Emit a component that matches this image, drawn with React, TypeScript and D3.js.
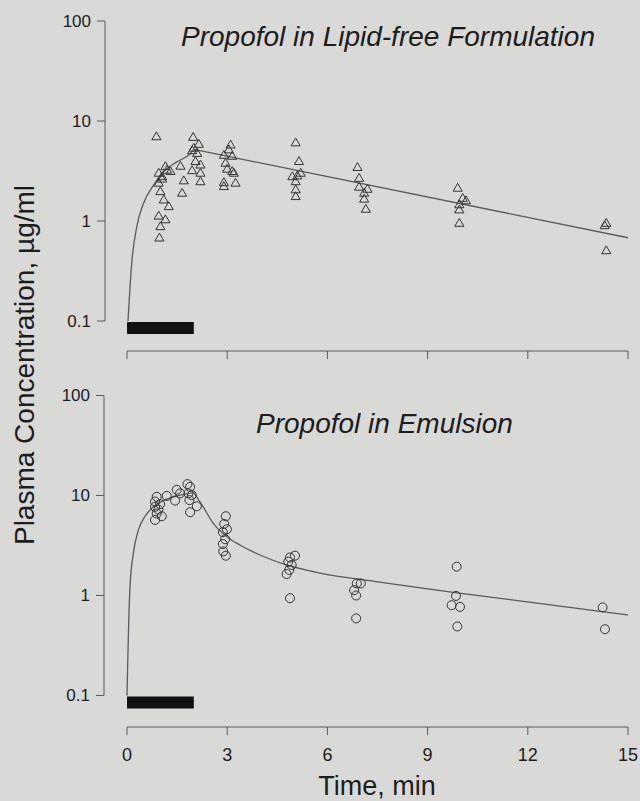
import React from 'react';
import * as d3 from 'd3';

// axis values
const timeTicks = [0, 3, 6, 9, 12, 15];
const concTicks = [0.1, 1, 10, 100];
const concTickLabels = ['0.1', '1', '10', '100'];
const infusion = [0, 2]; // infusion period, min

// observed concentrations [time min, µg/ml]
const lipidFreeObs: [number, number][] = [
  [0.88, 6.9], [0.95, 2.98], [1.15, 3.47], [1.3, 3.1], [1.05, 2.75], [0.95, 2.37], [1.0, 1.95],
  [1.1, 1.61], [1.25, 1.38], [0.95, 1.11], [1.15, 1.02], [1.0, 0.87], [0.97, 0.67], [1.05, 2.6], [1.2, 3.2],
  [1.6, 3.5], [1.7, 2.5], [1.65, 1.88],
  [1.98, 6.8], [2.15, 5.8], [2.0, 5.3], [2.1, 4.7], [2.05, 3.9], [2.2, 3.6], [1.95, 3.16], [2.2, 2.98],
  [2.2, 2.45], [1.95, 5.0],
  [3.1, 5.7], [3.05, 5.1], [2.9, 4.5], [3.15, 4.4], [2.95, 3.75], [3.0, 3.27], [3.15, 3.1], [3.2, 2.98],
  [2.9, 2.4], [2.9, 2.19], [3.25, 2.37],
  [5.05, 6.0], [5.15, 3.9], [5.2, 2.98], [4.95, 2.75], [5.1, 2.8], [5.05, 2.45], [5.05, 2.03], [5.05, 1.74],
  [6.9, 3.4], [6.95, 2.65], [6.95, 2.16], [7.2, 2.06], [7.1, 1.88], [7.1, 1.64], [7.15, 1.3],
  [9.9, 2.11], [10.05, 1.67], [10.15, 1.58], [9.95, 1.44], [9.95, 1.28], [9.95, 0.94],
  [14.35, 0.94], [14.3, 0.89], [14.35, 0.5],
];

const emulsionObs: [number, number][] = [
  [0.89, 9.7], [0.84, 8.7], [0.99, 8.2], [0.84, 7.7], [0.94, 7.2], [0.89, 6.6], [1.04, 6.2], [0.84, 5.7], [1.19, 9.9],
  [1.49, 11.4], [1.44, 8.9], [1.59, 10.5], [1.81, 13.0], [1.89, 12.2], [1.84, 10.5], [1.94, 10.1], [1.87, 9.0],
  [2.09, 7.8], [1.89, 6.8],
  [2.96, 6.2], [2.91, 5.2], [2.99, 4.6], [2.87, 4.3], [2.94, 3.65], [2.87, 3.27], [2.88, 2.76], [2.96, 2.5],
  [5.03, 2.5], [4.88, 2.4], [4.83, 2.18], [4.93, 2.02], [4.86, 1.8], [4.78, 1.64], [4.88, 0.94],
  [6.88, 1.32], [7.0, 1.32], [6.8, 1.13], [6.86, 1.0], [6.86, 0.59],
  [9.87, 1.94], [9.85, 0.99], [9.72, 0.8], [9.97, 0.77], [9.89, 0.49],
  [14.24, 0.76], [14.31, 0.46],
];

// fitted model lines
const lipidFreeRise: [number, number][] = [
  [0.03, 0.1], [0.14, 0.375], [0.29, 0.87], [0.49, 1.49], [0.79, 2.27], [1.09, 3.1], [1.49, 3.9], [1.89, 4.7], [2.0, 5.2],
];
const lipidFreeDecline: [number, number][] = [[2.0, 5.2], [15, 0.68]];

const emulsionRise: [number, number][] = [
  [0.0, 0.1], [0.04, 0.39], [0.09, 1.22], [0.19, 2.64], [0.34, 4.5], [0.54, 6.2], [0.79, 7.7], [1.09, 8.9],
  [1.49, 9.9], [2.0, 10.7],
];
const emulsionDecline: [number, number][] = [
  [2.0, 10.7], [2.28, 7.7], [2.58, 5.3], [2.98, 3.9], [3.38, 3.2], [3.98, 2.54], [4.78, 2.02], [5.78, 1.67],
  [7.5, 1.37], [10, 1.05], [15, 0.64],
];

const W = 640;
const H = 801;
const FONT = '"Liberation Sans", Arial, Helvetica, sans-serif';
const INK = '#1c1c1c';
const LINE = '#5a5a5a';

const x = d3.scaleLinear().domain([0, 15]).range([127, 628]);

type PanelProps = {
  top: number;
  axisX: number;
  xAxisY: number;
  title: string;
  titleX: number;
  titleY: number;
  obs: [number, number][];
  marker: 'triangle' | 'circle';
  curves: [number, number][][];
};

function Panel({ top, axisX, xAxisY, title, titleX, titleY, obs, marker, curves }: PanelProps) {
  const y = d3.scaleLog().domain([0.1, 100]).range([top + 300, top]);
  const line = d3
    .line<[number, number]>()
    .x((d) => x(d[0]))
    .y((d) => y(d[1]))
    .curve(d3.curveMonotoneX);
  const tri = d3.symbol().type(d3.symbolTriangle).size(36)();

  return (
    <g>
      {/* y axis */}
      <line x1={axisX} x2={axisX} y1={y(100)} y2={y(0.1)} stroke={LINE} strokeWidth={1} />
      {concTicks.map((t, i) => (
        <g key={t}>
          <line x1={axisX - 8} x2={axisX} y1={y(t)} y2={y(t)} stroke={LINE} strokeWidth={1} />
          <text x={axisX - 14} y={y(t)} dy="0.35em" textAnchor="end" fontSize={17} fill={INK} fontFamily={FONT}>
            {concTickLabels[i]}
          </text>
        </g>
      ))}

      {/* x axis */}
      <line x1={x(0)} x2={x(15)} y1={xAxisY} y2={xAxisY} stroke={LINE} strokeWidth={1} />
      {timeTicks.map((t) => (
        <line key={t} x1={x(t)} x2={x(t)} y1={xAxisY} y2={xAxisY + 8} stroke={LINE} strokeWidth={1} />
      ))}

      {/* infusion bar */}
      <rect x={x(infusion[0])} y={y(0.1) + 1} width={x(infusion[1]) - x(infusion[0])} height={12} fill="#111" />

      {/* model curve */}
      {curves.map((c, i) => (
        <path key={i} d={line(c) || ''} fill="none" stroke={LINE} strokeWidth={1.3} />
      ))}

      {/* observations */}
      {obs.map((d, i) =>
        marker === 'triangle' ? (
          <path key={i} d={tri || ''} transform={`translate(${x(d[0])},${y(d[1])})`} fill="none" stroke="#333" strokeWidth={1} />
        ) : (
          <circle key={i} cx={x(d[0])} cy={y(d[1])} r={4.5} fill="none" stroke="#333" strokeWidth={1} />
        )
      )}

      <text x={titleX} y={titleY} fontSize={28} fontStyle="italic" fill={INK} fontFamily={FONT}>
        {title}
      </text>
    </g>
  );
}

export default function App() {
  return (
    <div style={{ position: 'absolute', left: 0, top: 0 }}>
      <svg width={W} height={H} style={{ display: 'block' }}>
        <rect x={0} y={0} width={W} height={H} fill="#d9d9d7" />
        <Panel
          top={21}
          axisX={105}
          xAxisY={351}
          title="Propofol in Lipid-free Formulation"
          titleX={181}
          titleY={46}
          obs={lipidFreeObs}
          marker="triangle"
          curves={[lipidFreeRise, lipidFreeDecline]}
        />
        <Panel
          top={395.5}
          axisX={104}
          xAxisY={727}
          title="Propofol in Emulsion"
          titleX={256}
          titleY={433}
          obs={emulsionObs}
          marker="circle"
          curves={[emulsionRise, emulsionDecline]}
        />
        {timeTicks.map((t) => (
          <text key={t} x={x(t)} y={761} textAnchor="middle" fontSize={18} fill={INK} fontFamily={FONT}>
            {t}
          </text>
        ))}
        <text x={377} y={795} textAnchor="middle" fontSize={27} fill={INK} fontFamily={FONT}>
          Time, min
        </text>
        <text
          transform="translate(34,365) rotate(-90)"
          textAnchor="middle"
          fontSize={28}
          fill={INK}
          fontFamily={FONT}
        >
          Plasma Concentration, µg/ml
        </text>
      </svg>
    </div>
  );
}
